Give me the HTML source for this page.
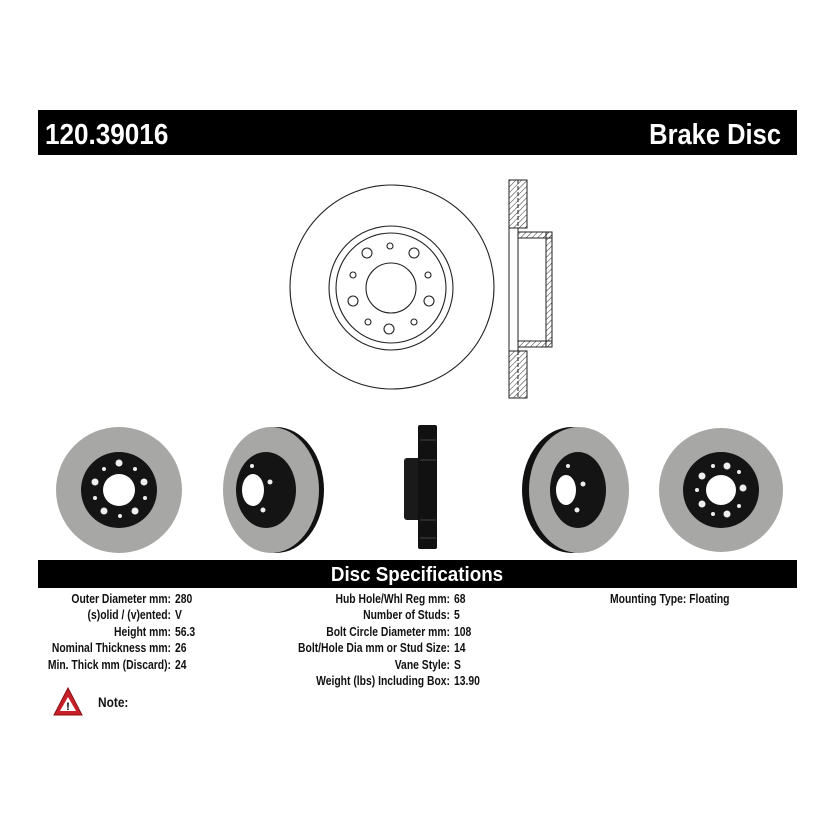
<!DOCTYPE html>
<html><head><meta charset="utf-8"><style>
html,body{margin:0;padding:0;background:#fff;}
svg{display:block;}
.t{font-family:"Liberation Sans",sans-serif;font-weight:bold;font-size:12.5px;fill:#111;}
</style></head><body>
<svg width="835" height="835" viewBox="0 0 835 835" xmlns="http://www.w3.org/2000/svg">
<defs>
<pattern id="h" width="4" height="4" patternUnits="userSpaceOnUse" patternTransform="rotate(45)">
<line x1="0" y1="0" x2="0" y2="4" stroke="#333" stroke-width="1"/></pattern>
</defs>
<rect x="38" y="110" width="759" height="45" fill="#000"/>
<g transform="translate(45,144) scale(0.9,1)"><text x="0" y="0" font-family="Liberation Sans,sans-serif" font-weight="bold" font-size="29" fill="#fff">120.39016</text></g>
<g transform="translate(781,144) scale(0.88,1)"><text x="0" y="0" text-anchor="end" font-family="Liberation Sans,sans-serif" font-weight="bold" font-size="29" fill="#fff">Brake Disc</text></g>

<g fill="none" stroke="#222" stroke-width="1.1">
<circle cx="392" cy="287" r="102"/>
<circle cx="391" cy="288" r="62"/>
<circle cx="391" cy="288" r="55"/>
<circle cx="391" cy="288" r="25"/>
<circle cx="367" cy="253" r="5"/>
<circle cx="414" cy="253" r="5"/>
<circle cx="353" cy="301" r="5"/>
<circle cx="429" cy="301" r="5"/>
<circle cx="389" cy="329" r="5"/>
<circle cx="390" cy="246" r="3"/>
<circle cx="353" cy="275" r="3"/>
<circle cx="428" cy="275" r="3"/>
<circle cx="368" cy="322" r="3"/>
<circle cx="414" cy="322" r="3"/>
</g>
<g stroke="#222" stroke-width="1" fill="none">
<rect x="509" y="180" width="18" height="48" fill="url(#h)"/>
<rect x="509" y="351" width="18" height="47" fill="url(#h)"/>
<line x1="518" y1="180" x2="518" y2="228" stroke-dasharray="4,2"/>
<line x1="518" y1="351" x2="518" y2="398" stroke-dasharray="4,2"/>
<rect x="509" y="228" width="9" height="123" fill="#fff"/>
<rect x="518" y="232" width="34" height="6" fill="url(#h)"/>
<rect x="518" y="341" width="34" height="6" fill="url(#h)"/>
<rect x="546" y="232" width="6" height="115" fill="url(#h)"/>
<line x1="518" y1="238" x2="518" y2="341"/>
</g>

<circle cx="119" cy="490" r="63" fill="#a7a7a5"/>
<circle cx="119" cy="490" r="38" fill="#141414"/>
<circle cx="119" cy="490" r="16" fill="#fff"/>
<g fill="#eee"><circle cx="119" cy="463" r="3.5"/><circle cx="95" cy="482" r="3.5"/><circle cx="144" cy="482" r="3.5"/><circle cx="104" cy="511" r="3.5"/><circle cx="135" cy="511" r="3.5"/><circle cx="120" cy="516" r="2"/><circle cx="104" cy="469" r="2"/><circle cx="135" cy="469" r="2"/><circle cx="95" cy="498" r="2"/><circle cx="145" cy="498" r="2"/></g>
<ellipse cx="276" cy="490" rx="48" ry="63" fill="#111"/>
<ellipse cx="271" cy="490" rx="48" ry="63" fill="#a7a7a5"/>
<ellipse cx="266" cy="490" rx="30" ry="38" fill="#141414"/>
<ellipse cx="253" cy="490" rx="11" ry="16" fill="#fff"/>
<g fill="#eee"><circle cx="270" cy="482" r="2.5"/><circle cx="263" cy="510" r="2.5"/><circle cx="252" cy="466" r="2"/></g>
<rect x="404" y="458" width="18" height="62" rx="3" fill="#1a1a1a"/>
<rect x="418" y="425" width="19" height="124" rx="2" fill="#111"/>
<g stroke="#444" stroke-width="1"><line x1="420" y1="440" x2="436" y2="440"/><line x1="420" y1="460" x2="436" y2="460"/><line x1="420" y1="520" x2="436" y2="520"/><line x1="420" y1="538" x2="436" y2="538"/></g>
<ellipse cx="572" cy="490" rx="50" ry="63" fill="#111"/>
<ellipse cx="579" cy="490" rx="50" ry="63" fill="#a7a7a5"/>
<ellipse cx="578" cy="490" rx="28" ry="38" fill="#141414"/>
<ellipse cx="566" cy="490" rx="10" ry="15" fill="#fff"/>
<g fill="#eee"><circle cx="583" cy="484" r="2.5"/><circle cx="577" cy="510" r="2.5"/><circle cx="568" cy="466" r="2"/></g>
<circle cx="721" cy="490" r="62" fill="#a7a7a5"/>
<circle cx="721" cy="490" r="38" fill="#141414"/>
<circle cx="721" cy="490" r="15" fill="#fff"/>
<g fill="#eee"><circle cx="727" cy="466" r="3.5"/><circle cx="702" cy="476" r="3.5"/><circle cx="743" cy="488" r="3.5"/><circle cx="702" cy="504" r="3.5"/><circle cx="727" cy="514" r="3.5"/><circle cx="713" cy="466" r="2"/><circle cx="697" cy="490" r="2"/><circle cx="739" cy="472" r="2"/><circle cx="739" cy="506" r="2"/><circle cx="713" cy="514" r="2"/></g>

<rect x="38" y="560" width="759" height="28" fill="#000"/>
<g transform="translate(417,581) scale(0.94,1)"><text x="0" y="0" text-anchor="middle" font-family="Liberation Sans,sans-serif" font-weight="bold" font-size="20" fill="#fff">Disc Specifications</text></g>

<g class="t" text-anchor="end" transform="translate(171,0) scale(0.83,1)">
<text x="0" y="603">Outer Diameter mm:</text>
<text x="0" y="619">(s)olid / (v)ented:</text>
<text x="0" y="636">Height mm:</text>
<text x="0" y="652">Nominal Thickness mm:</text>
<text x="0" y="669">Min. Thick mm (Discard):</text>
</g>
<g class="t" text-anchor="end" transform="translate(450,0) scale(0.83,1)">
<text x="0" y="603">Hub Hole/Whl Reg mm:</text>
<text x="0" y="619">Number of Studs:</text>
<text x="0" y="636">Bolt Circle Diameter mm:</text>
<text x="0" y="652">Bolt/Hole Dia mm or Stud Size:</text>
<text x="0" y="669">Vane Style:</text>
<text x="0" y="685">Weight (lbs) Including Box:</text>
</g>
<g class="t" transform="translate(175,0) scale(0.83,1)">
<text x="0" y="603">280</text><text x="0" y="619">V</text><text x="0" y="636">56.3</text><text x="0" y="652">26</text><text x="0" y="669">24</text>
</g>
<g class="t" transform="translate(454,0) scale(0.83,1)">
<text x="0" y="603">68</text><text x="0" y="619">5</text><text x="0" y="636">108</text><text x="0" y="652">14</text><text x="0" y="669">S</text><text x="0" y="685">13.90</text>
</g>
<g class="t" transform="translate(610,0) scale(0.83,1)"><text x="0" y="603">Mounting Type: Floating</text></g>
<g class="t" transform="translate(98,0) scale(0.85,1)"><text x="0" y="707" font-size="14">Note:</text></g>
<polygon points="68,688 54,715 82,715" fill="#c8202a" stroke="#8a1010" stroke-width="1"/>
<polygon points="68,697 60,711 76,711" fill="#fff"/>
<text x="68" y="710" text-anchor="middle" font-family="Liberation Sans,sans-serif" font-weight="bold" font-size="11" fill="#000">!</text>
</svg>
</body></html>
